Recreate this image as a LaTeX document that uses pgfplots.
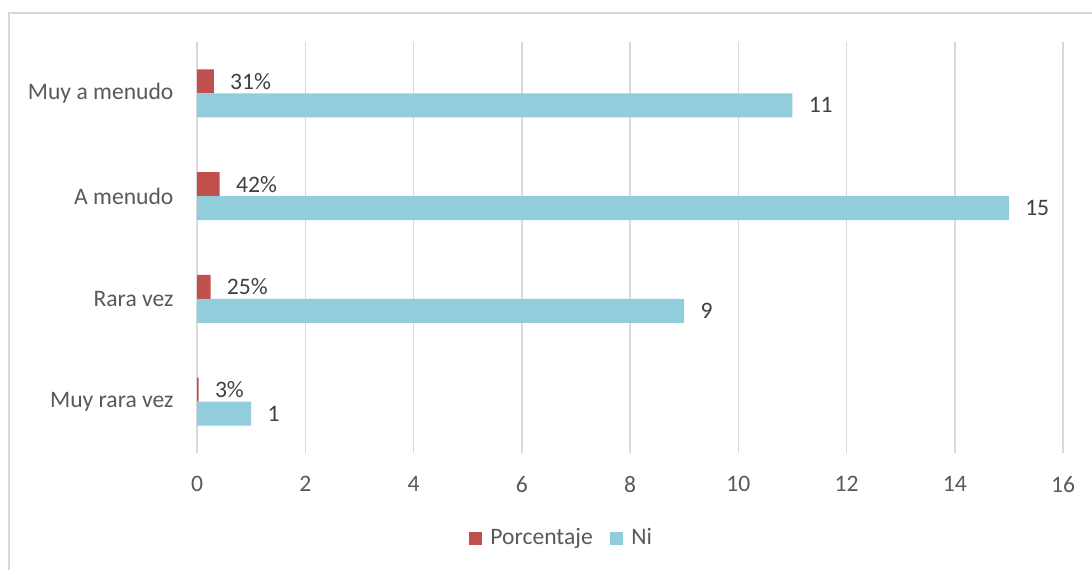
\documentclass[border=0pt]{standalone}
\usepackage{fontspec}
\setmainfont{Carlito}
\usepackage{pgfplots}
\pgfplotsset{compat=1.18}
\definecolor{cred}{HTML}{C0504D}
\definecolor{cblue}{HTML}{92CDDC}
\definecolor{cgrid}{HTML}{D9D9D9}
\definecolor{ctext}{HTML}{595959}
\definecolor{clabel}{HTML}{404040}
\begin{document}
\begin{tikzpicture}
\useasboundingbox (0,0) rectangle (546pt,285pt);
\draw[cgrid, line width=0.75pt] (4.5pt,0) -- (4.5pt,278.5pt) -- (546pt,278.5pt);
\begin{axis}[
 at={(98.5pt,58.5pt)}, anchor=south west,
 scale only axis, width=433pt, height=205.5pt,
 xbar, bar width=12pt,
 xmin=0, xmax=16, ymin=-0.5, ymax=3.5,
 xtick={0,2,...,16}, ytick={0,1,2,3},
 yticklabels={Muy rara vez, Rara vez, A menudo, Muy a menudo},
 xmajorgrids, major grid style={cgrid, line width=0.75pt},
 axis line style={draw=none}, major tick style={draw=none},
 tick label style={font=\fontsize{11.8}{14}\selectfont, text=ctext},
 xticklabel style={yshift=-8pt},
 yticklabel style={xshift=-4pt},
 /pgf/number format/assume math mode=true,
 point meta=explicit symbolic,
 nodes near coords,
 nodes near coords style={anchor=west, inner sep=0pt, xshift=8pt, font=\fontsize{11.8}{14}\selectfont, text=clabel},
 legend columns=-1,
 legend style={at={(0.422,-0.207)}, anchor=center, draw=none, fill=none,
   font=\fontsize{11.8}{14}\selectfont, text=ctext,
   /tikz/every even column/.append style={column sep=6.5pt}},
 legend image code/.code={\fill[#1] (0pt,-3.25pt) rectangle (6.5pt,3.25pt); \path (8.8pt,0pt);},
]
\addplot[fill=cred, draw=none, bar shift=6pt] coordinates {(0.03,0) [3\%] (0.25,1) [25\%] (0.42,2) [42\%] (0.31,3) [31\%]};
\addplot[fill=cblue, draw=none, bar shift=-6pt] coordinates {(1,0) [1] (9,1) [9] (15,2) [15] (11,3) [11]};
\legend{Porcentaje, Ni}
\end{axis}
\end{tikzpicture}
\end{document}
